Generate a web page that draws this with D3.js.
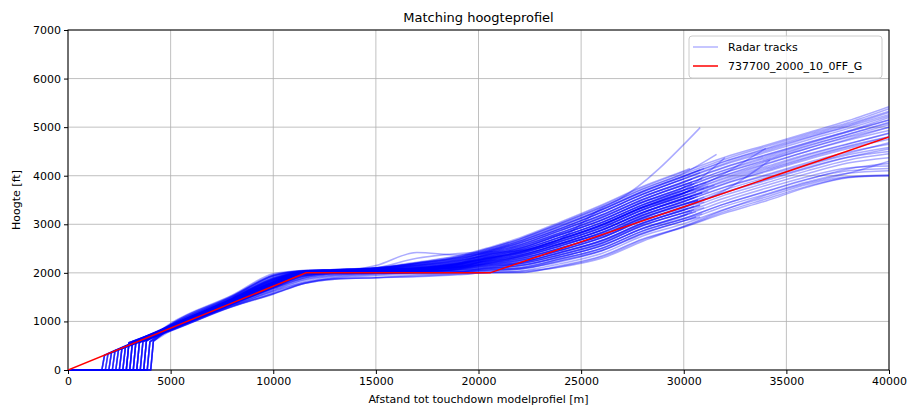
<!DOCTYPE html>
<html><head><meta charset="utf-8">
<script src="https://cdn.jsdelivr.net/npm/d3@7"></script>
<style>body{margin:0;background:#fff}svg{display:block;font-family:"DejaVu Sans",sans-serif}</style>
</head><body><svg id="c" width="907" height="407"></svg>
<script>
const xTicks = [0,5000,10000,15000,20000,25000,30000,35000,40000];
const yTicks = [0,1000,2000,3000,4000,5000,6000,7000];
const gridX = [5000,8000,10000,11500,13000,15000,17000,19000,20500,22000,24000,26000,28000,30000,32000,34000,36000,38000,40000];
const profileX = [0,11600,20560,40000];
const profileY = [0,2000,2000,4800];
const touchdownX = [1650,1820,1990,2160,2330,2500,2670,2840,3010,3180,3350,3520,3690,3860,4030,
  1650,1820,1990,2160,2330,2500,2670,2840,3010,3180,3350,3520,3690,3860,4030,
  1650,1820,1990,2160,2330,2500,2670,2840,3010,3180,3350,3520,3690,3860,4030,
  2840,3180,3520,3860,2500,
  1650,1820,1990,2160,2330,2500,2670,2840,3010,3180,3350,3520,3690,3860,4030,
  2840,3010,3180,3350,3520,3690,3860,4030,2670,2500,3010,3350,3690,2840,3180,
  1650,1990,2330,2670,3010,3350,3690,4030,2160,2840];
const flareHeight = [306,335,365,394,423,452,480,560,575,590,570,585,600,580,595,
  300,340,360,400,420,455,485,555,580,585,575,590,595,585,600,
  310,330,370,390,425,450,478,565,570,595,560,580,605,575,590,
  560,590,575,585,455,
  304,338,362,396,421,450,482,562,578,588,572,583,598,582,597,
  558,576,592,568,587,602,578,593,479,451,574,566,596,563,589,
  306,365,423,480,575,570,600,595,394,560];
const N = null;
const heights = [
[805,1305,1570,1780,1870,1900,1930,1970, 2000,2010,2130,2330,2680,2940,3230,3480,3760,3960,4000],
[930,1510,1940,2040,2060,2100,2200,2320, 2470,2660,2980,3300,3680,3990,N,N,N,N,N],
[855,1385,1730,1990,2010,2020,2050,2100, 2200,2340,2600,2880,3240,3520,3830,4080,4330,4560,4750],
[835,1350,1680,1900,1980,2000,2010,2030, 2100,2200,2420,2660,3020,3290,3600,3850,4100,4320,4450],
[905,1470,1870,2030,2050,2080,2150,2250, 2370,2510,2790,3090,3460,3760,N,N,N,N,N],
[860,1390,1740,1980,2010,2030,2060,2120, 2220,2300,2510,2770,3130,3410,N,N,N,N,N],
[820,1320,1620,1800,1880,1900,1950,1990, 2020,2040,2190,2400,2760,3010,3310,3560,3820,3980,4000],
[870,1410,1780,2000,2020,2150,2420,2370, 2400,2450,2700,2990,3350,3640,N,N,N,N,N],
[910,1470,1880,2030,2060,2100,2200,2300, 2420,2580,2870,3190,3560,3870,N,N,N,N,N],
[845,1370,1710,1930,1990,2000,2020,2060, 2160,2250,2460,2720,3080,3350,3650,3900,4150,4380,4550],
[890,1430,1800,2010,2040,2070,2120,2200, 2290,2400,2650,2930,3300,3580,N,N,N,N,N],
[800,1300,1560,1780,1900,1960,2000,2020, 2040,2080,2250,2460,2820,3070,3370,3620,3870,4050,4100],
[960,1540,1980,2050,2070,2110,2220,2350, 2520,2720,3050,3400,3780,4100,N,N,N,N,N],
[880,1430,1810,2020,2040,2070,2140,2230, 2440,2610,2910,3240,3620,3930,4230,4480,4730,4970,5230],
[875,1420,1790,2010,2030,2050,2080,2150, 2240,2330,2560,2820,3180,3470,N,N,N,N,N],
[835,1350,1680,1900,1980,2000,2010,2020, 2090,2150,2330,2560,2910,3180,3480,3740,3980,4160,4200],
[900,1460,1860,2030,2050,2090,2200,2320, 2490,2690,3010,3350,3730,4050,N,N,N,N,N],
[865,1400,1760,2000,2020,2040,2090,2180, 2340,2470,2740,3040,3400,3700,N,N,N,N,N],
[815,1330,1600,1820,1920,1980,2000,2020, 2120,2180,2370,2610,2970,3240,3540,3800,4040,4260,4370],
[920,1490,1900,2040,2060,2090,2200,2320, 2500,2700,3030,3380,3760,4080,4380,4630,4880,5130,5420],
[880,1440,1820,2020,2040,2060,2090,2130, 2170,2220,2420,2670,3030,3300,N,N,N,N,N],
[850,1375,1720,1970,2000,2020,2080,2170, 2390,2540,2830,3140,3510,3810,4110,4360,4620,4850,5100],
[895,1450,1830,2020,2040,2070,2130,2220, 2380,2530,2820,3130,3510,3810,N,N,N,N,N],
[840,1360,1690,1920,1990,2010,2030,2080, 2230,2330,2560,2830,3190,3470,3770,4020,4270,4490,4650],
[870,1410,1770,2000,2020,2040,2090,2170, 2300,2420,2700,3330,N,N,N,N,N,N,N],
[905,1470,1870,2030,2050,2080,2160,2260, 2460,2640,2950,3290,3660,3980,4290,4540,4790,5030,5300],
[825,1335,1640,1860,1950,1990,2000,2010, 2060,2100,2280,2500,2860,3120,3420,3680,3930,4100,4150],
[860,1395,1750,1990,2010,2030,2070,2140, 2260,2360,2600,2880,3240,3520,N,N,N,N,N],
[930,1510,1940,2040,2060,2090,2180,2280, 2440,2620,2920,3250,3620,3930,N,N,N,N,N],
[850,1380,1725,1980,2000,2010,2030,2090, 2280,2400,2650,2930,3300,3590,3880,4130,4380,4610,4800],
[885,1440,1810,2010,2030,2050,2090,2160, 2310,2430,2690,2980,3350,3640,4050,N,N,N,N],
[810,1310,1580,1790,1890,1940,1970,1990, 2000,2000,2150,2350,2700,2950,3260,3520,3780,3970,4020],
[875,1415,1780,2000,2020,2040,2080,2160, 2360,2500,2780,3080,3450,3750,4060,4310,4560,4790,5000],
[895,1455,1840,2020,2040,2060,2080,2100, 2100,2150,2330,2560,2920,3180,N,N,N,N,N],
[840,1365,1700,1940,1990,2000,2020,2070, 2210,2290,2510,2770,3130,3410,3710,3960,4210,4430,4580],
[915,1480,1890,2030,2050,2080,2170,2290, 2460,2650,2960,3300,3670,3990,N,N,N,N,N],
[865,1400,1765,2000,2020,2040,2070,2110, 2190,2260,2470,2720,3080,3350,3700,N,N,N,N],
[820,1325,1630,1850,1940,1980,1995,2010, 2070,2110,2290,2510,2860,3120,3420,3670,3920,4140,4250],
[900,1460,1850,2020,2040,2060,2110,2190, 2320,2440,2700,2990,3360,3650,N,N,N,N,N],
[855,1390,1740,1990,2010,2030,2090,2190, 2410,2570,2870,3190,3560,3870,4170,4420,4670,4910,5150],
[890,1445,1815,2015,2035,2050,2060,2070, 2060,2080,2250,2460,2810,3070,N,N,N,N,N],
[835,1350,1670,1890,1970,2000,2020,2080, 2300,2420,2680,2980,3340,3640,3940,4190,4440,4660,4870],
[945,1530,1960,2050,2070,2100,2210,2340, 2500,2690,3010,3350,3720,4040,4340,4600,4850,5090,5380],
[870,1410,1775,2000,2020,2040,2070,2100, 2140,2190,2380,2620,2980,3240,N,N,N,N,N],
[805,1305,1570,1780,1870,1900,1920,1960, 2010,2030,2120,2300,2650,2960,3300,3600,3850,4050,4300],
[885,1435,1800,2010,2030,2050,2100,2200, 2420,2580,2880,3200,3570,3880,4180,4430,4680,4920,5200],
[860,1390,1750,1990,2010,2030,2060,2130, 2270,2370,2610,2890,3250,3540,N,N,N,N,N],
[925,1500,1920,2040,2060,2090,2160,2250, 2370,2510,2790,3090,3460,3760,N,N,N,N,N],
[845,1370,1715,1960,2000,2010,2040,2110, 2330,2470,2740,3030,3400,3700,4000,4250,4500,4730,4930],
[880,1425,1795,2010,2030,2100,2300,2400, 2430,2460,2600,2800,3150,3420,N,N,N,N,N],
[830,1345,1660,1880,1960,1990,2000,2020, 2050,2080,2230,2450,2800,3070,N,N,N,N,N],
[845,1365,1700,1930,1990,2000,2010,2040, 2080,2100,2290,2500,2870,3110,N,N,N,N,N],
[865,1395,1745,1985,2010,2020,2040,2060, 2100,2150,2320,2570,2910,3190,N,N,N,N,N],
[850,1380,1720,1960,2000,2010,2030,2070, 2130,2190,2370,2600,2980,3230,N,N,N,N,N],
[880,1420,1790,2010,2030,2040,2060,2100, 2160,2210,2430,2660,3020,3300,N,N,N,N,N],
[840,1360,1695,1940,1995,2010,2030,2080, 2150,2220,2410,2670,3030,3290,N,N,N,N,N],
[870,1405,1770,2000,2020,2030,2060,2110, 2180,2260,2460,2720,3090,3340,N,N,N,N,N],
[890,1440,1810,2015,2035,2050,2080,2130, 2210,2280,2520,2760,3120,3420,N,N,N,N,N],
[855,1385,1735,1980,2005,2020,2050,2120, 2200,2300,2500,2780,3140,3400,N,N,N,N,N],
[875,1415,1785,2005,2025,2040,2070,2140, 2240,2320,2560,2820,3190,3460,N,N,N,N,N],
[900,1455,1845,2025,2045,2060,2100,2170, 2260,2370,2590,2880,3230,3530,N,N,N,N,N],
[860,1390,1745,1985,2010,2030,2070,2160, 2250,2350,2610,2870,3250,3520,N,N,N,N,N],
[885,1430,1805,2015,2035,2050,2090,2180, 2290,2400,2640,2940,3290,3580,N,N,N,N,N],
[910,1470,1875,2030,2050,2070,2110,2200, 2310,2420,2700,2970,3350,3650,N,N,N,N,N],
[870,1405,1770,2000,2020,2040,2080,2190, 2300,2440,2680,2990,3340,3630,N,N,N,N,N],
[895,1450,1835,2020,2040,2060,2110,2210, 2340,2460,2740,3030,3410,3700,N,N,N,N,N],
[915,1480,1890,2030,2050,2080,2140,2240, 2370,2500,2790,3080,3450,3760,N,N,N,N,N],
[900,1460,1855,2025,2045,2070,2150,2260, 2390,2550,2820,3150,3500,3820,N,N,N,N,N],
[935,1515,1945,2040,2060,2090,2170,2280, 2410,2570,2880,3180,3570,3860,N,N,N,N,N],
[925,1500,1925,2040,2060,2100,2190,2300, 2440,2620,2910,3250,3610,3940,N,N,N,N,N],
[845,1370,1705,1950,1995,2005,2020,2050, 2100,2140,2340,2550,2920,3170,N,N,N,N,N],
[880,1425,1795,2010,2030,2040,2070,2120, 2190,2240,2470,2730,3070,3360,N,N,N,N,N],
[850,1375,1725,1965,2000,2015,2050,2130, 2230,2330,2550,2830,3180,3480,N,N,N,N,N],
[890,1445,1820,2020,2040,2055,2090,2170, 2280,2390,2650,2920,3300,3590,N,N,N,N,N],
[865,1400,1760,1995,2015,2035,2080,2190, 2330,2480,2730,3040,3390,3710,N,N,N,N,N],
[905,1470,1865,2030,2050,2065,2080,2110, 2150,2210,2420,2650,3010,3300,N,N,N,N,N],
[840,1360,1690,1930,1990,2005,2040,2120, 2260,2360,2600,2880,3230,3530,N,N,N,N,N],
[870,1410,1780,2005,2025,2040,2070,2130, 2210,2290,2510,2770,3130,3410,N,N,N,N,N],
[895,1455,1840,2020,2040,2060,2100,2190, 2310,2430,2690,2980,3350,3640,N,N,N,N,N],
[860,1395,1750,1990,2010,2020,2040,2070, 2130,2180,2380,2610,2970,3240,N,N,N,N,N],
[870,1405,1765,2000,2020,2040,2080,2160, 2290,2400,2650,2940,3300,3590,3900,4160,4420,4650,4880],
[895,1450,1830,2020,2040,2060,2120,2220, 2360,2500,2790,3090,3460,3760,4070,4330,4600,4850,5080],
[915,1480,1890,2030,2050,2080,2160,2270, 2440,2610,2910,3250,3620,3940,4250,4510,4770,5010,5260],
[855,1385,1735,1985,2005,2025,2070,2170, 2310,2430,2690,2990,3350,3650,3960,4230,4500,4750,5000],
[880,1425,1795,2010,2030,2050,2080,2140, 2240,2330,2560,2830,3190,3470,3760,4000,4240,4460,4680],
[900,1460,1855,2025,2045,2070,2140,2240, 2390,2540,2830,3140,3510,3810,4120,4390,4650,4900,5150],
[940,1520,1950,2045,2065,2095,2190,2310, 2470,2660,2970,3310,3680,4000,4300,4560,4820,5060,5330],
[845,1370,1710,1950,1995,2010,2030,2080, 2180,2260,2470,2730,3090,3360,3660,3920,4170,4380,4500],
[885,1440,1815,2015,2035,2055,2100,2200, 2340,2470,2740,3040,3400,3700,4010,4290,4560,4810,5050],
[865,1400,1760,1995,2015,2035,2070,2150, 2260,2360,2600,2880,3240,3530,3840,4100,4360,4590,4800]
];
const endPoints = [
null,[[30800,4120]],null,null,[[30400,3840]],[[31000,3560]],null,[[30500,3760]],[[30800,4000]],null,
[[31500,3800]],null,[[30300,4150]],null,[[30700,3580]],null,[[31600,4440]],[[32000,4370]],null,null,
[[30200,3330]],null,[[30400,3860]],null,[[26800,3500],[30800,4990]],null,null,[[30900,3650]],[[30000,3930]],null,
[[34000,4565]],null,null,[[30600,3260]],null,[[31000,4150]],[[34200,4320]],null,[[30500,3720]],null,
[[30800,3150]],null,null,[[30300,3280]],null,null,[[31200,3680]],[[30100,3790]],null,[[30700,3500]],
[[30600,3150]],[[30900,3220]],[[30400,3260]],[[31000,3340]],[[30500,3370]],[[30800,3390]],[[30300,3390]],[[30700,3500]],[[31100,3530]],[[30500,3540]],
[[30900,3640]],[[30400,3580]],[[30600,3660]],[[31200,3790]],[[30300,3700]],[[30700,3800]],[[30500,3840]],[[30900,3930]],[[30400,3930]],[[30800,4060]],
[[30200,3210]],[[31000,3460]],[[30600,3560]],[[30200,3620]],[[31100,3860]],[[30800,3390]],[[30400,3570]],[[30700,3480]],[[31000,3740]],[[30500,3300]],
null,null,null,null,null,null,null,null,null,null
];

const W=907,H=407, m={l:68,r:18,t:30,b:37};
const svg=d3.select("#c");
const x=d3.scaleLinear().domain([0,40000]).range([m.l,W-m.r]);
const y=d3.scaleLinear().domain([0,7000]).range([H-m.b,m.t]);

svg.append("defs").append("clipPath").attr("id","clip").append("rect")
  .attr("x",m.l).attr("y",m.t).attr("width",W-m.r-m.l).attr("height",H-m.b-m.t+1);

// grid
const g=svg.append("g");
g.selectAll(".gx").data(xTicks).join("line").attr("x1",d=>x(d)).attr("x2",d=>x(d))
  .attr("y1",m.t).attr("y2",H-m.b).attr("stroke","#b0b0b0").attr("stroke-width",0.8);
g.selectAll(".gy").data(yTicks).join("line").attr("y1",d=>y(d)).attr("y2",d=>y(d))
  .attr("x1",m.l).attr("x2",W-m.r).attr("stroke","#b0b0b0").attr("stroke-width",0.8);

// frame
svg.append("rect").attr("x",m.l).attr("y",m.t).attr("width",W-m.r-m.l).attr("height",H-m.b-m.t)
  .attr("fill","none").attr("stroke","#000").attr("stroke-width",1);

// tracks: straight touchdown part + smooth airborne part
const lineLin=d3.line().x(d=>x(d[0])).y(d=>y(d[1]));
const lineSm=d3.line().x(d=>x(d[0])).y(d=>y(d[1])).curve(d3.curveMonotoneX);
const trackPaths = heights.map((hs,i)=>{
  const f=[touchdownX[i]+130,flareHeight[i]];
  const head=[[0,0],[touchdownX[i],0],f];
  const body=[f];
  hs.forEach((v,j)=>{ if(v!==null) body.push([gridX[j],v]); });
  if(endPoints[i]) endPoints[i].forEach(p=>body.push(p));
  return lineLin(head)+lineSm(body).replace(/^M[^LC]*/,"");
});
const pl=svg.append("g").attr("clip-path","url(#clip)");
pl.selectAll(".trk").data(trackPaths).join("path").attr("d",d=>d).attr("fill","none")
  .attr("stroke","#0000ff").attr("stroke-opacity",0.33).attr("stroke-width",1.5)
  .attr("stroke-linejoin","round");
pl.append("path").datum(profileX.map((v,i)=>[v,profileY[i]])).attr("d",lineLin)
  .attr("fill","none").attr("stroke","#ff0000").attr("stroke-width",1.5);

// axes
const xa=svg.append("g").attr("transform",`translate(0,${H-m.b})`)
  .call(d3.axisBottom(x).tickValues(xTicks).tickFormat(d3.format("d")).tickSize(4).tickPadding(3));
const ya=svg.append("g").attr("transform",`translate(${m.l},0)`)
  .call(d3.axisLeft(y).tickValues(yTicks).tickFormat(d3.format("d")).tickSize(4).tickPadding(3));
[xa,ya].forEach(a=>{a.selectAll("text").attr("font-size",11).attr("fill","#000")
  .attr("font-family","DejaVu Sans"); a.select(".domain").remove(); a.selectAll("line").attr("stroke","#000");});

svg.append("text").attr("x",(m.l+W-m.r)/2).attr("y",22).attr("text-anchor","middle")
  .attr("font-size",13).text("Matching hoogteprofiel");
svg.append("text").attr("x",(m.l+W-m.r)/2).attr("y",403).attr("text-anchor","middle")
  .attr("font-size",11).text("Afstand tot touchdown modelprofiel [m]");
svg.append("text").attr("transform",`translate(20,${(m.t+H-m.b)/2}) rotate(-90)`).attr("text-anchor","middle")
  .attr("font-size",11).text("Hoogte [ft]");

// legend
const lg=svg.append("g").attr("transform","translate(689,36)");
lg.append("rect").attr("width",193).attr("height",42).attr("rx",3).attr("fill","#fff")
  .attr("fill-opacity",0.8).attr("stroke","#cccccc");
const items=[["Radar tracks","#0000ff",0.3],["737700_2000_10_0FF_G","#ff0000",1]];
items.forEach((it,i)=>{
  const yy=11+i*19;
  lg.append("line").attr("x1",4).attr("x2",29).attr("y1",yy).attr("y2",yy)
    .attr("stroke",it[1]).attr("stroke-opacity",it[2]).attr("stroke-width",1.5);
  lg.append("text").attr("x",39).attr("y",yy+4).attr("font-size",11).text(it[0]);
});
</script></body></html>
